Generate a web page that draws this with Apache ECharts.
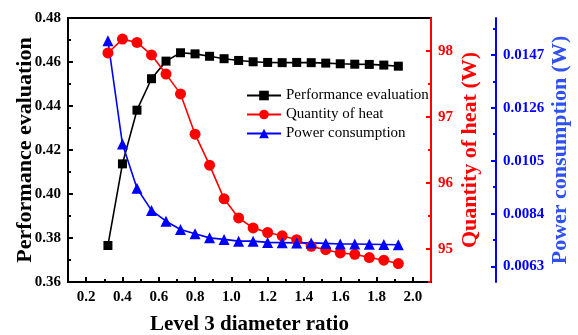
<!DOCTYPE html>
<html>
<head>
<meta charset="utf-8">
<script src="https://cdn.jsdelivr.net/npm/echarts@6/dist/echarts.min.js"></script>
<style>
html,body{margin:0;padding:0;background:#fff;}
#c{width:578px;height:335px;}
</style>
</head>
<body>
<div id="c"></div>
<script>
// ---- data ----
const ratio = [0.32,0.40,0.48,0.56,0.64,0.72,0.80,0.88,0.96,1.04,1.12,1.20,1.28,1.36,1.44,1.52,1.60,1.68,1.76,1.84,1.92];
const performance = [0.3766,0.4137,0.4381,0.4524,0.4604,0.4642,0.4637,0.4626,0.4615,0.4607,0.4601,0.4598,0.4597,0.4598,0.4597,0.4595,0.4592,0.4590,0.4589,0.4586,0.4581];
const heat = [97.97,98.18,98.13,97.94,97.65,97.35,96.74,96.27,95.76,95.47,95.32,95.25,95.20,95.14,95.04,94.99,94.94,94.92,94.87,94.83,94.78];
const power = [0.01526,0.01116,0.00941,0.00853,0.00810,0.00777,0.00760,0.00744,0.00738,0.00731,0.00731,0.00726,0.00725,0.00724,0.00724,0.00722,0.00720,0.00720,0.00719,0.00718,0.00717];
const xTicks = [0.2,0.4,0.6,0.8,1.0,1.2,1.4,1.6,1.8,2.0];
const xMinor = [0.3,0.5,0.7,0.9,1.1,1.3,1.5,1.7,1.9];
const heatTicks = [95,96,97,98];
const heatMinor = [94.5,95.5,96.5,97.5];
const powerTicks = [0.0063,0.0084,0.0105,0.0126,0.0147];
const powerMinor = [0.00735,0.00945,0.01155,0.01365,0.01575];
const seriesNames = ['Performance evaluation','Quantity of heat','Power consumption'];

const serif = '"Liberation Serif","Times New Roman",serif';
const lab = (c) => ({fontFamily: serif, fontWeight: 'bold', fontSize: 15, color: c});
const nameSt = (c, s) => ({fontFamily: serif, fontWeight: 'bold', fontSize: s, color: c});

const chart = echarts.init(document.getElementById('c'), null, {renderer: 'canvas'});
const xr = [0.1, 2.1];
const hr = [94.5, 98.5];
const pr = [0.00569, 0.01616];

chart.setOption({
  animation: false,
  grid: {left: 68, right: 147, top: 18, bottom: 53, containLabel: false, outerBoundsMode: 'none',
         show: true, borderColor: '#000', borderWidth: 2, backgroundColor: 'transparent'},
  legend: {
    orient: 'vertical', left: 241, top: 83, itemWidth: 34, itemHeight: 12, itemGap: 4,
    textStyle: {fontFamily: serif, fontSize: 15, color: '#000'},
    data: seriesNames
  },
  xAxis: [
    {type: 'value', min: xr[0], max: xr[1], position: 'bottom',
     name: 'Level 3 diameter ratio', nameLocation: 'middle', nameGap: 32, nameTextStyle: nameSt('#000', 21),
     axisLine: {show: true, lineStyle: {color: '#000', width: 2}},
     axisTick: {show: true, inside: true, length: 5, lineStyle: {width: 2, color: '#000'}, customValues: xTicks},
     axisLabel: Object.assign(lab('#000'), {margin: 8, customValues: xTicks, formatter: v => v.toFixed(1)}),
     splitLine: {show: false}},
    {type: 'value', min: xr[0], max: xr[1], position: 'bottom',
     axisLine: {show: false}, axisLabel: {show: false}, splitLine: {show: false},
     axisTick: {show: true, inside: true, length: 3, lineStyle: {width: 2, color: '#000'}, customValues: xMinor}}
  ],
  yAxis: [
    {type: 'value', min: 0.36, max: 0.48, interval: 0.02, position: 'left',
     name: 'Performance evaluation', nameLocation: 'middle', nameGap: 32, nameMoveOverlap: false, nameTextStyle: nameSt('#000', 22),
     axisLine: {show: true, lineStyle: {color: '#000', width: 2}},
     axisTick: {show: true, inside: true, length: 5, lineStyle: {width: 2, color: '#000'}},
     minorTick: {show: true, splitNumber: 2, length: 3, lineStyle: {width: 2, color: '#000'}},
     axisLabel: Object.assign(lab('#000'), {margin: 7, formatter: v => v.toFixed(2)}),
     splitLine: {show: false}},
    {type: 'value', min: hr[0], max: hr[1], position: 'right', offset: 0,
     name: 'Quantity of heat (W)', nameLocation: 'middle', nameGap: 28, nameMoveOverlap: false, nameRotate: 90, nameTextStyle: nameSt('#ff0000', 22),
     axisLine: {show: true, lineStyle: {color: '#ff0000', width: 2}},
     axisTick: {show: true, inside: true, length: 5, lineStyle: {width: 2, color: '#ff0000'}, customValues: heatTicks},
     axisLabel: Object.assign(lab('#ff0000'), {margin: 7, customValues: heatTicks, formatter: v => String(v)}),
     splitLine: {show: false}},
    {type: 'value', min: hr[0], max: hr[1], position: 'right', offset: 0,
     axisLine: {show: false}, axisLabel: {show: false}, splitLine: {show: false},
     axisTick: {show: true, inside: true, length: 3, lineStyle: {width: 2, color: '#ff0000'}, customValues: heatMinor}},
    {type: 'value', min: pr[0], max: pr[1], position: 'right', offset: 65,
     name: 'Power consumption (W)', nameLocation: 'middle', nameGap: 53, nameMoveOverlap: false, nameRotate: 90, nameTextStyle: nameSt('#3050f0', 22),
     axisLine: {show: true, lineStyle: {color: '#0000ff', width: 2}},
     axisTick: {show: true, inside: true, length: 5, lineStyle: {width: 2, color: '#0000ff'}, customValues: powerTicks},
     axisLabel: Object.assign(lab('#0000ff'), {margin: 7, customValues: powerTicks, formatter: v => v.toFixed(4)}),
     splitLine: {show: false}},
    {type: 'value', min: pr[0], max: pr[1], position: 'right', offset: 65,
     axisLine: {show: false}, axisLabel: {show: false}, splitLine: {show: false},
     axisTick: {show: true, inside: true, length: 3, lineStyle: {width: 2, color: '#0000ff'}, customValues: powerMinor}}
  ],
  series: [
    {name: seriesNames[0], type: 'line', xAxisIndex: 0, yAxisIndex: 0,
     data: ratio.map((x,i) => [x, performance[i]]),
     symbol: 'rect', symbolSize: 9, color: '#000000', lineStyle: {width: 1.6, color: '#000'}, itemStyle: {color: '#000'}},
    {name: seriesNames[1], type: 'line', xAxisIndex: 0, yAxisIndex: 1,
     data: ratio.map((x,i) => [x, heat[i]]),
     symbol: 'circle', symbolSize: 11, color: '#ff0000', lineStyle: {width: 1.6, color: '#ff0000'}, itemStyle: {color: '#ff0000'}},
    {name: seriesNames[2], type: 'line', xAxisIndex: 0, yAxisIndex: 3,
     data: ratio.map((x,i) => [x, power[i]]),
     symbol: 'triangle', symbolSize: 11, color: '#0000ff', lineStyle: {width: 1.6, color: '#0000ff'}, itemStyle: {color: '#0000ff'}}
  ]
});
</script>
</body>
</html>
